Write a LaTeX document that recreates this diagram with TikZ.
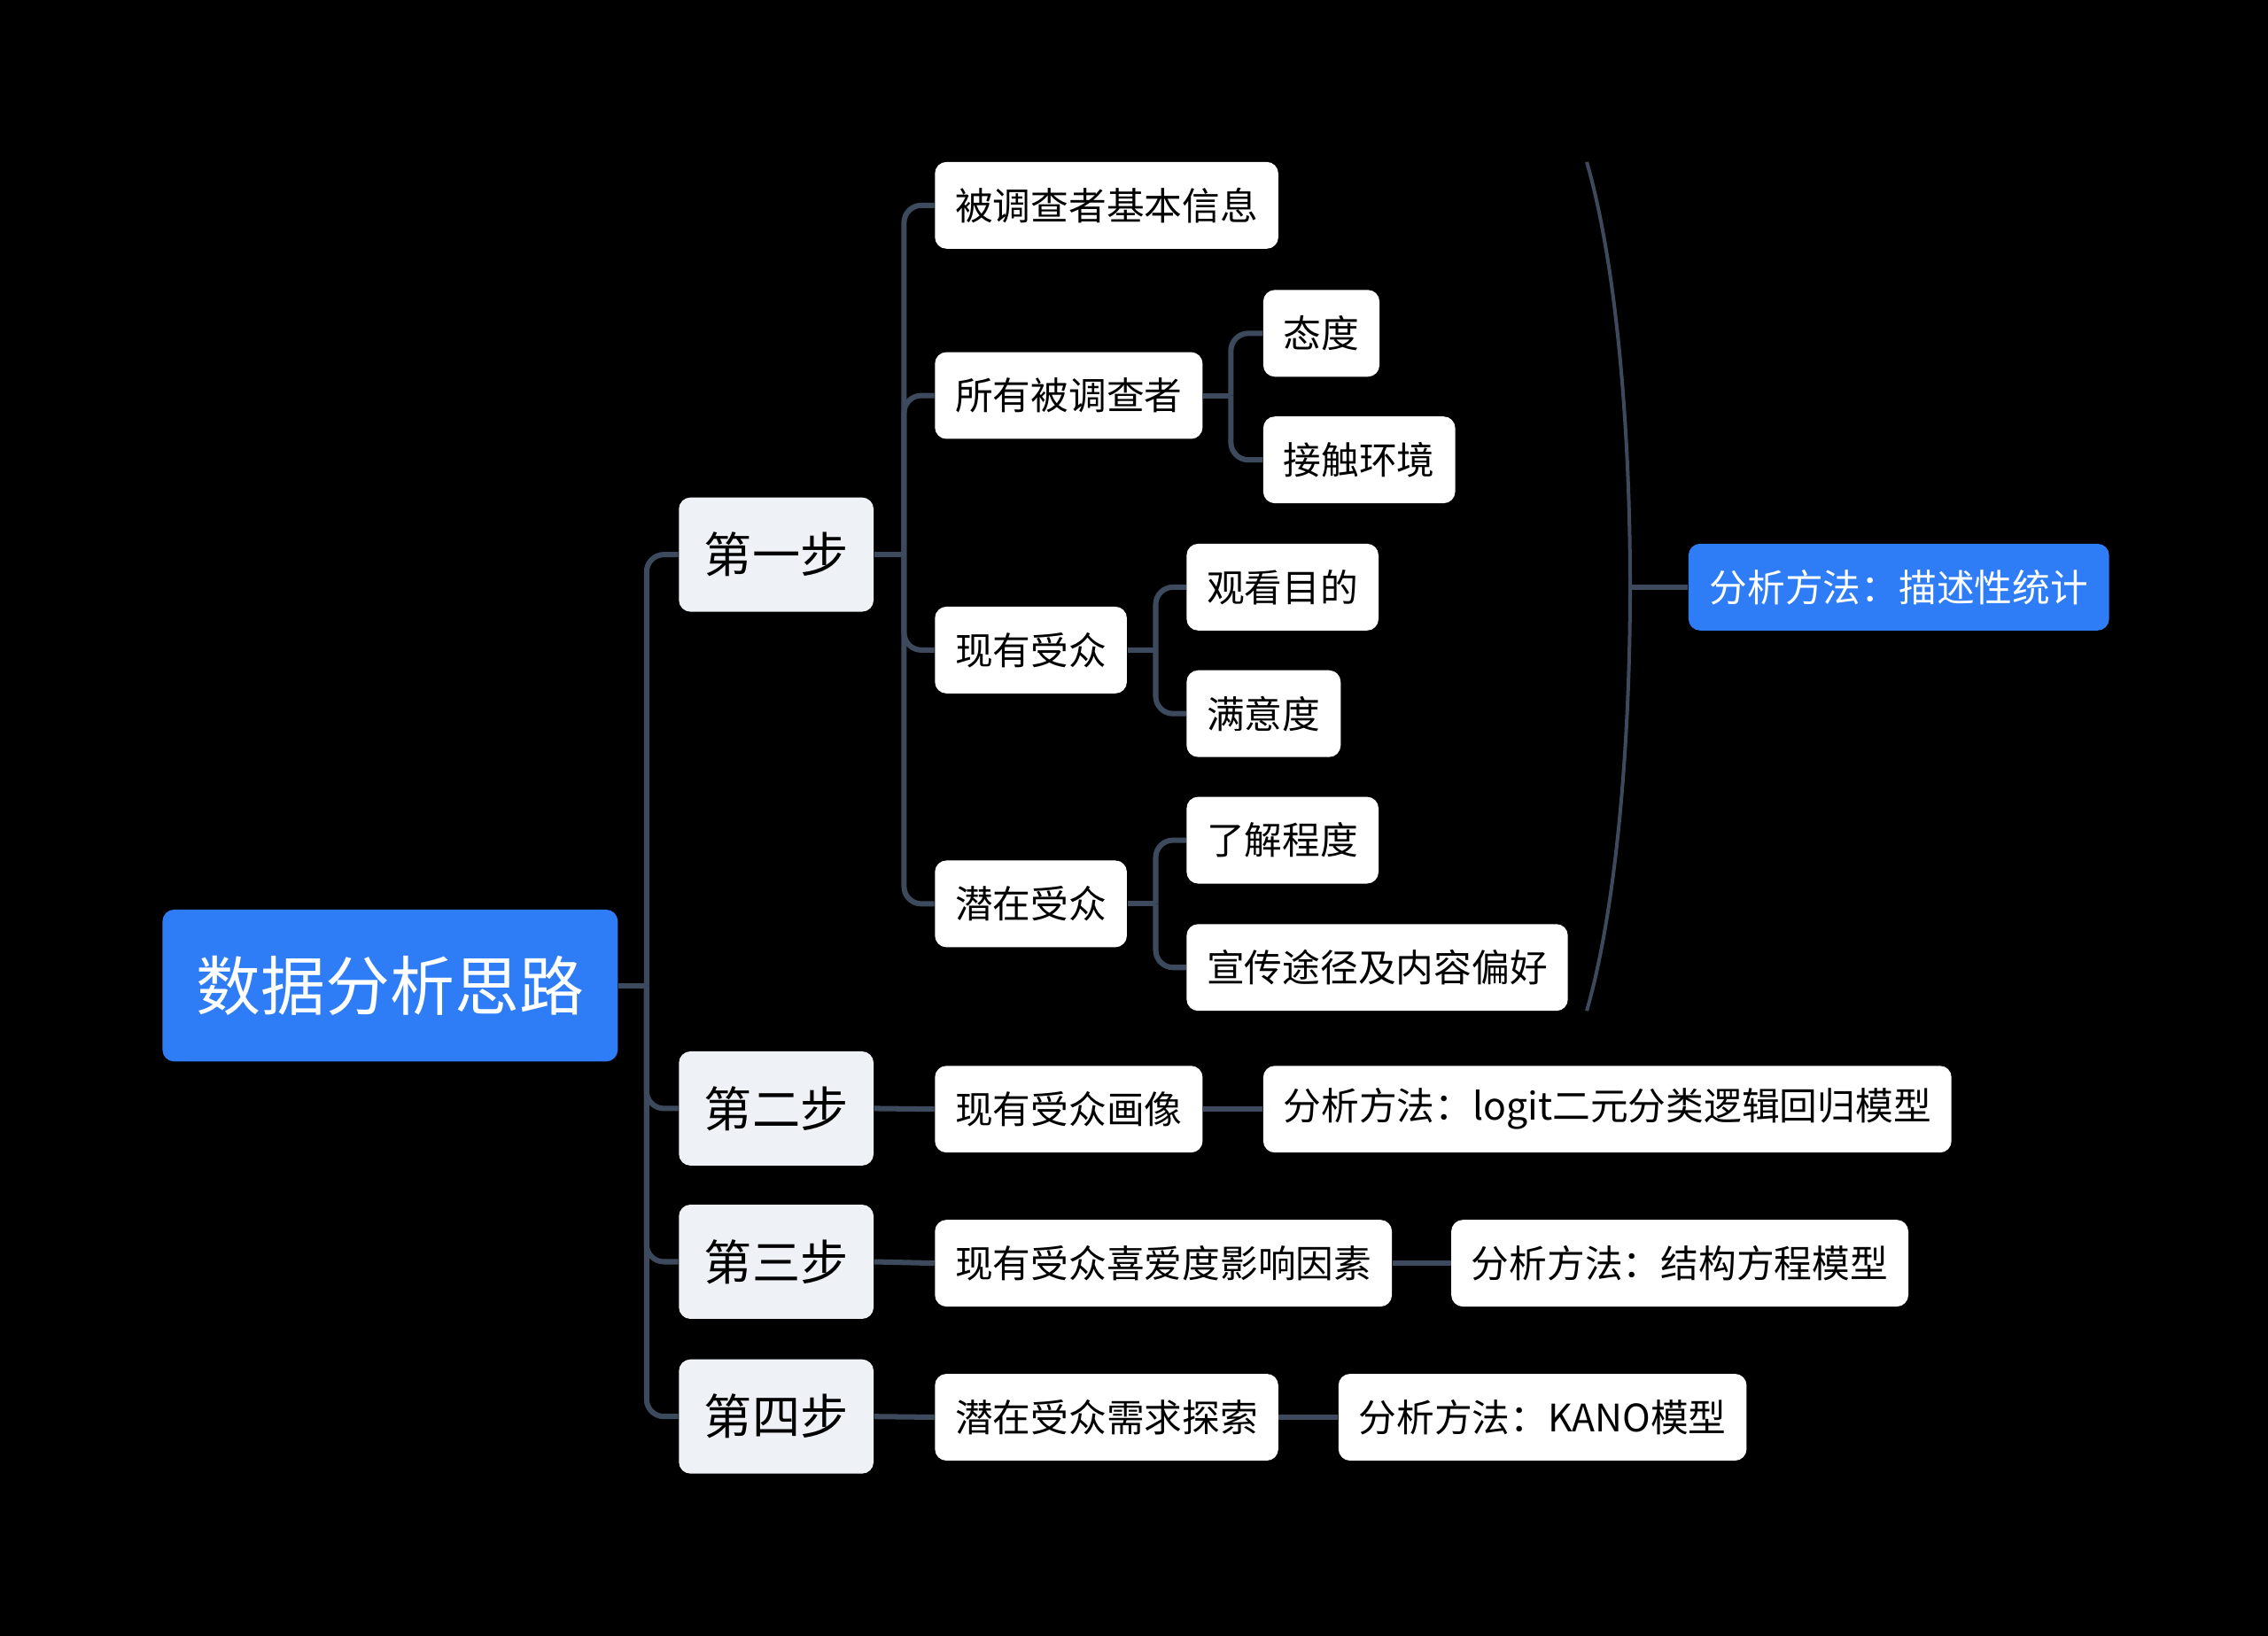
\documentclass[tikz,border=0pt]{standalone}
\usepackage{fontspec}
\setmainfont{Noto Sans CJK SC}
\usepackage{tikz}
\usetikzlibrary{positioning,calc}
\definecolor{mapblue}{RGB}{47,125,246}
\definecolor{mapstep}{RGB}{238,241,245}
\definecolor{mapline}{RGB}{61,74,94}
\tikzset{
  rootbox/.style={fill=mapblue, text=white, rounded corners=0.16cm, anchor=west,
    minimum height=2.1cm, inner xsep=0.47cm, font=\fontsize{25.4}{28}\selectfont},
  stepbox/.style={fill=mapstep, text=black, rounded corners=0.16cm, anchor=west,
    minimum height=1.58cm, inner xsep=0.35cm, font=\fontsize{18.9}{22}\selectfont},
  leafbox/.style={fill=white, text=black, rounded corners=0.16cm, anchor=west,
    minimum height=1.2cm, inner xsep=0.28cm, font=\fontsize{14.9}{17}\selectfont},
  methodbox/.style={leafbox, fill=mapblue, text=white, inner xsep=0.29cm},
  link/.style={draw=mapline, line width=2.1pt, rounded corners=0.24cm},
  bracket/.style={draw=mapline, line width=1.4pt}
}
\begin{document}
\begin{tikzpicture}[x=0.02cm, y=-0.02cm]
    \fill[black] (0,0) rectangle (1568,1131);
    \useasboundingbox (0,0) rectangle (1568,1131);

    \node[rootbox] (root) at (112,681.5) {数据分析思路};

    \node[stepbox] (stepone) at (469,383.5) {第一步};
    \node[stepbox] (steptwo) at (469,766.5) {第二步};
    \node[stepbox] (stepthree) at (469,872.5) {第三步};
    \node[stepbox] (stepfour) at (469,979.5) {第四步};

    % step one
    \node[leafbox] (basic) at (646,142) {被调查者基本信息};
    \node[leafbox] (allresp) at (646,273.5) {所有被调查者};
    \node[leafbox] (attitude) at (873,230.5) {态度};
    \node[leafbox] (contact) at (873,318) {接触环境};
    \node[leafbox] (current) at (646,449.5) {现有受众};
    \node[leafbox] (purpose) at (820,406) {观看目的};
    \node[leafbox] (satisfy) at (820,493.5) {满意度};
    \node[leafbox] (potential) at (646,625) {潜在受众};
    \node[leafbox] (aware) at (820,581) {了解程度};
    \node[leafbox] (prefer) at (820,669) {宣传途径及内容偏好};
    \node[methodbox] (descstat) at (1167,406) {分析方法：描述性统计};

    % steps two to four
    \node[leafbox] (portrait) at (646,767) {现有受众画像};
    \node[leafbox] (logit) at (873,767) {分析方法：logit二元分类逻辑回归模型};
    \node[leafbox] (factor) at (646,873.5) {现有受众喜爱度影响因素};
    \node[leafbox] (sem) at (1003,873.5) {分析方法：结构方程模型};
    \node[leafbox] (demand) at (646,980) {潜在受众需求探索};
    \node[leafbox] (kano) at (925,980) {分析方法：KANO模型};

    \coordinate (rootfork) at (447,681.5);
    \coordinate (onefork) at (625,383.5);
    \coordinate (allfork) at (851,273.5);
    \coordinate (curfork) at (799,449.5);
    \coordinate (potfork) at (799,625);
    \coordinate (bracetop) at (1097,112);
    \coordinate (bracemid) at (1127,406);
    \coordinate (bracebot) at (1097,699);

    \draw[link] (root.east) -- (rootfork);
    \foreach \s in {stepone,steptwo,stepthree,stepfour}
      \draw[link] (rootfork) |- (\s.west);

    \draw[link] (stepone.east) -- (onefork);
    \foreach \s in {basic,allresp,current,potential}
      \draw[link] (onefork) |- (\s.west);

    \draw[link] (allresp.east) -- (allfork);
    \foreach \s in {attitude,contact}
      \draw[link] (allfork) |- (\s.west);
    \draw[link] (current.east) -- (curfork);
    \foreach \s in {purpose,satisfy}
      \draw[link] (curfork) |- (\s.west);
    \draw[link] (potential.east) -- (potfork);
    \foreach \s in {aware,prefer}
      \draw[link] (potfork) |- (\s.west);

    % summary bracket
    \draw[bracket] (bracetop) .. controls (1137,250) and (1137,560) .. (bracebot);
    \draw[link] (bracemid) -- (descstat.west);

    \draw[link] (steptwo.east) -- (portrait.west);
    \draw[link] (portrait.east) -- (logit.west);
    \draw[link] (stepthree.east) -- (factor.west);
    \draw[link] (factor.east) -- (sem.west);
    \draw[link] (stepfour.east) -- (demand.west);
    \draw[link] (demand.east) -- (kano.west);
  \end{tikzpicture}
\end{document}
